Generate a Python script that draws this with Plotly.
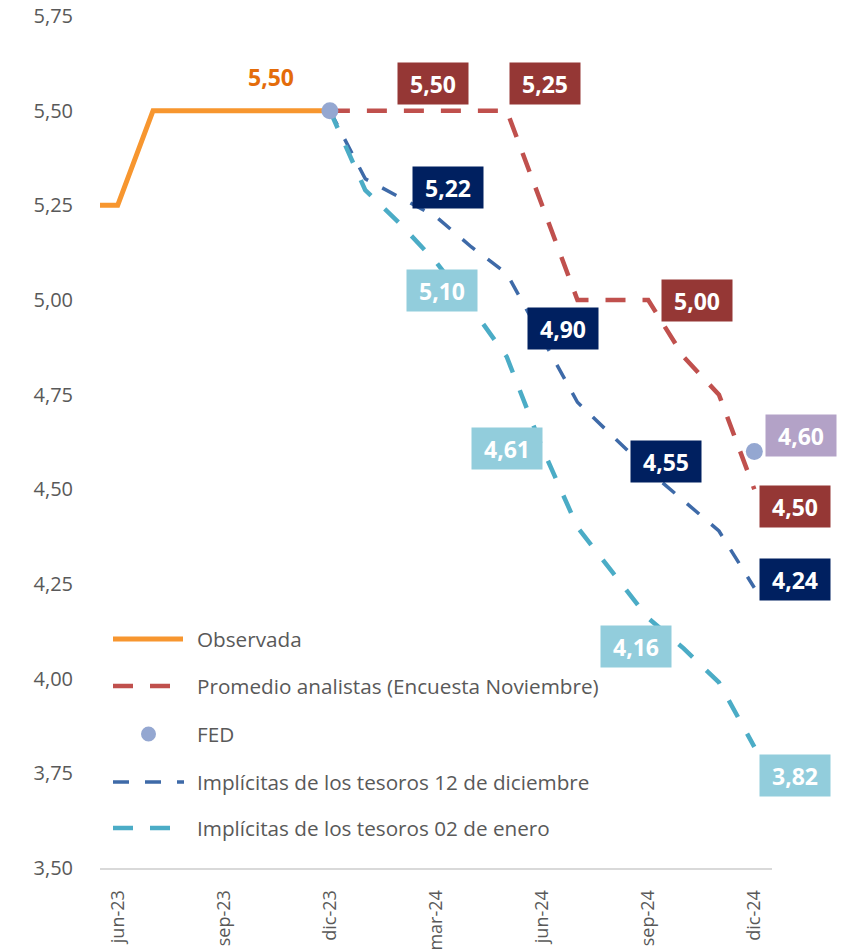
import plotly.graph_objects as go

# ---------------- data ----------------
months = ["may-23", "jun-23", "jul-23", "ago-23", "sep-23", "oct-23", "nov-23", "dic-23",
          "ene-24", "feb-24", "mar-24", "abr-24", "may-24", "jun-24", "jul-24", "ago-24",
          "sep-24", "oct-24", "nov-24", "dic-24"]
tick_labels = ["jun-23", "sep-23", "dic-23", "mar-24", "jun-24", "sep-24", "dic-24"]

obs_months = months[:8]
observada = [5.25, 5.25, 5.50, 5.50, 5.50, 5.50, 5.50, 5.50]

proj_months = months[7:]
analistas = [5.50, 5.50, 5.50, 5.50, 5.50, 5.50, 5.25, 5.00, 5.00, 5.00, 4.85, 4.75, 4.50]
implicitas_12dic = [5.50, 5.32, 5.27, 5.22, 5.14, 5.07, 4.90, 4.73, 4.64, 4.55, 4.47, 4.39, 4.24]
implicitas_02ene = [5.50, 5.29, 5.20, 5.10, 4.98, 4.85, 4.61, 4.40, 4.28, 4.16, 4.08, 3.99, 3.82]

fed_months = ["dic-23", "dic-24"]
fed = [5.50, 4.60]

label_months = ["mar-24", "jun-24", "sep-24", "dic-24"]

names = ["Observada", "Promedio analistas (Encuesta Noviembre)", "FED",
         "Implícitas de los tesoros 12 de diciembre", "Implícitas de los tesoros 02 de enero"]

y_ticks = [3.5, 3.75, 4.0, 4.25, 4.5, 4.75, 5.0, 5.25, 5.5, 5.75]

# ---------------- style ----------------
FONT = "Open Sans"
C_OBS = "#F7962F"
C_AN = "#C0504D"
C_12 = "#3E6AA8"
C_02 = "#4BACC6"
C_FED = "#94A7D1"
BOX_AN = "#953735"
BOX_12 = "#002060"
BOX_02 = "#92CDDC"
BOX_FED = "#B3A2C7"
TXT_OBS = "#E46C0A"
GREY = "#595959"

DASH_AN = "20px,17px"
DASH_12 = "16px,16px"
DASH_02 = "19px,19px"

# geometry (page body margin is removed by the post script, so px = figure px)
W, H = 846, 950
L, R, T, B = 100, 74, 16, 82
PW, PH = W - L - R, H - T - B


def px_x(px):
    return (px - L) / PW


def px_y(py):
    return (H - B - py) / PH


def fmt(v):
    return f"{v:.2f}".replace(".", ",")


fig = go.Figure()

fig.add_trace(go.Scatter(x=obs_months, y=observada, mode="lines", name=names[0],
                         line=dict(color=C_OBS, width=5), showlegend=False))
fig.add_trace(go.Scatter(x=proj_months, y=analistas, mode="lines", name=names[1],
                         line=dict(color=C_AN, width=4.5, dash=DASH_AN), showlegend=False))
fig.add_trace(go.Scatter(x=proj_months, y=implicitas_12dic, mode="lines", name=names[3],
                         line=dict(color=C_12, width=3.5, dash=DASH_12), showlegend=False))
fig.add_trace(go.Scatter(x=proj_months, y=implicitas_02ene, mode="lines", name=names[4],
                         line=dict(color=C_02, width=4.5, dash=DASH_02), showlegend=False))
fig.add_trace(go.Scatter(x=fed_months, y=fed, mode="markers", name=names[2],
                         marker=dict(color=C_FED, size=17, line=dict(width=0)), showlegend=False))

annotations = []


def box(x, y, bg, dx, dy):
    annotations.append(dict(
        x=x, y=y, xref="x", yref="y", text=fmt(y), showarrow=False,
        xshift=dx, yshift=dy, bgcolor=bg, width=70, height=41,
        align="center", valign="middle", borderpad=0,
        font=dict(family=FONT, size=23, color="white", weight="bold")))


# observed label
annotations.append(dict(
    x="sep-23", y=observada[obs_months.index("sep-23")], xref="x", yref="y",
    text=fmt(observada[obs_months.index("sep-23")]), showarrow=False,
    xshift=47, yshift=34,
    font=dict(family=FONT, size=23, color=TXT_OBS, weight="bold")))

an_shift = [(-3, 27), (3, 122), (49, 0), (41, -17)]
d12_shift = [(12, 29), (21, 9), (18, 9), (41, 8)]
e02_shift = [(6, -28), (-35, -1), (-12, -28), (41, -29)]
for m, s in zip(label_months, an_shift):
    box(m, analistas[proj_months.index(m)], BOX_AN, *s)
for m, s in zip(label_months, d12_shift):
    box(m, implicitas_12dic[proj_months.index(m)], BOX_12, *s)
for m, s in zip(label_months, e02_shift):
    box(m, implicitas_02ene[proj_months.index(m)], BOX_02, *s)
box("dic-24", fed[1], BOX_FED, 47, 16)

# ---------------- custom legend ----------------
shapes = []
row_y = [639, 686, 734, 782, 828]
x0, x1 = px_x(113), px_x(183)
shapes.append(dict(type="line", xref="paper", yref="paper", x0=x0, x1=x1,
                   y0=px_y(row_y[0]), y1=px_y(row_y[0]), line=dict(color=C_OBS, width=5)))
shapes.append(dict(type="line", xref="paper", yref="paper", x0=x0, x1=px_x(170),
                   y0=px_y(row_y[1]), y1=px_y(row_y[1]), line=dict(color=C_AN, width=4.5, dash=DASH_AN)))
shapes.append(dict(type="circle", xref="paper", yref="paper",
                   x0=px_x(141), x1=px_x(156), y0=px_y(row_y[2] + 7.5), y1=px_y(row_y[2] - 7.5),
                   fillcolor=C_FED, line=dict(width=0)))
shapes.append(dict(type="line", xref="paper", yref="paper", x0=x0, x1=px_x(184),
                   y0=px_y(row_y[3]), y1=px_y(row_y[3]), line=dict(color=C_12, width=3.5, dash=DASH_12)))
shapes.append(dict(type="line", xref="paper", yref="paper", x0=x0, x1=px_x(170),
                   y0=px_y(row_y[4]), y1=px_y(row_y[4]), line=dict(color=C_02, width=4.5, dash=DASH_AN)))

for name, ry in zip(names, row_y):
    annotations.append(dict(
        x=px_x(195), y=px_y(ry), xref="paper", yref="paper", text=name,
        showarrow=False, xanchor="left", yanchor="middle",
        font=dict(family=FONT, size=20.7, color=GREY)))

fig.update_layout(
    width=W, height=H,
    margin=dict(l=L, r=R, t=T, b=B, autoexpand=False),
    paper_bgcolor="white", plot_bgcolor="white",
    separators=",.",
    showlegend=False,
    annotations=annotations,
    shapes=shapes,
    font=dict(family=FONT, color=GREY),
    xaxis=dict(
        type="category", categoryorder="array", categoryarray=months,
        range=[0.5, 19.5], tickmode="array", tickvals=tick_labels, ticktext=tick_labels,
        tickangle=-90, ticks="", showgrid=False, zeroline=False,
        showline=True, linecolor="#D9D9D9", linewidth=2, automargin=False,
        tickfont=dict(family=FONT, size=18, color=GREY), ticklabelstandoff=13,
    ),
    yaxis=dict(
        range=[3.5, 5.75], tickmode="array", tickvals=y_ticks,
        tickformat=".2f", ticks="", showgrid=False, zeroline=False, showline=False,
        automargin=False, ticklabeloverflow="allow",
        tickfont=dict(family=FONT, size=20, color=GREY), ticklabelstandoff=26,
    ),
)

fig.write_html("out.html", config={"displayModeBar": False},
               post_script="document.body.style.margin='0';")
